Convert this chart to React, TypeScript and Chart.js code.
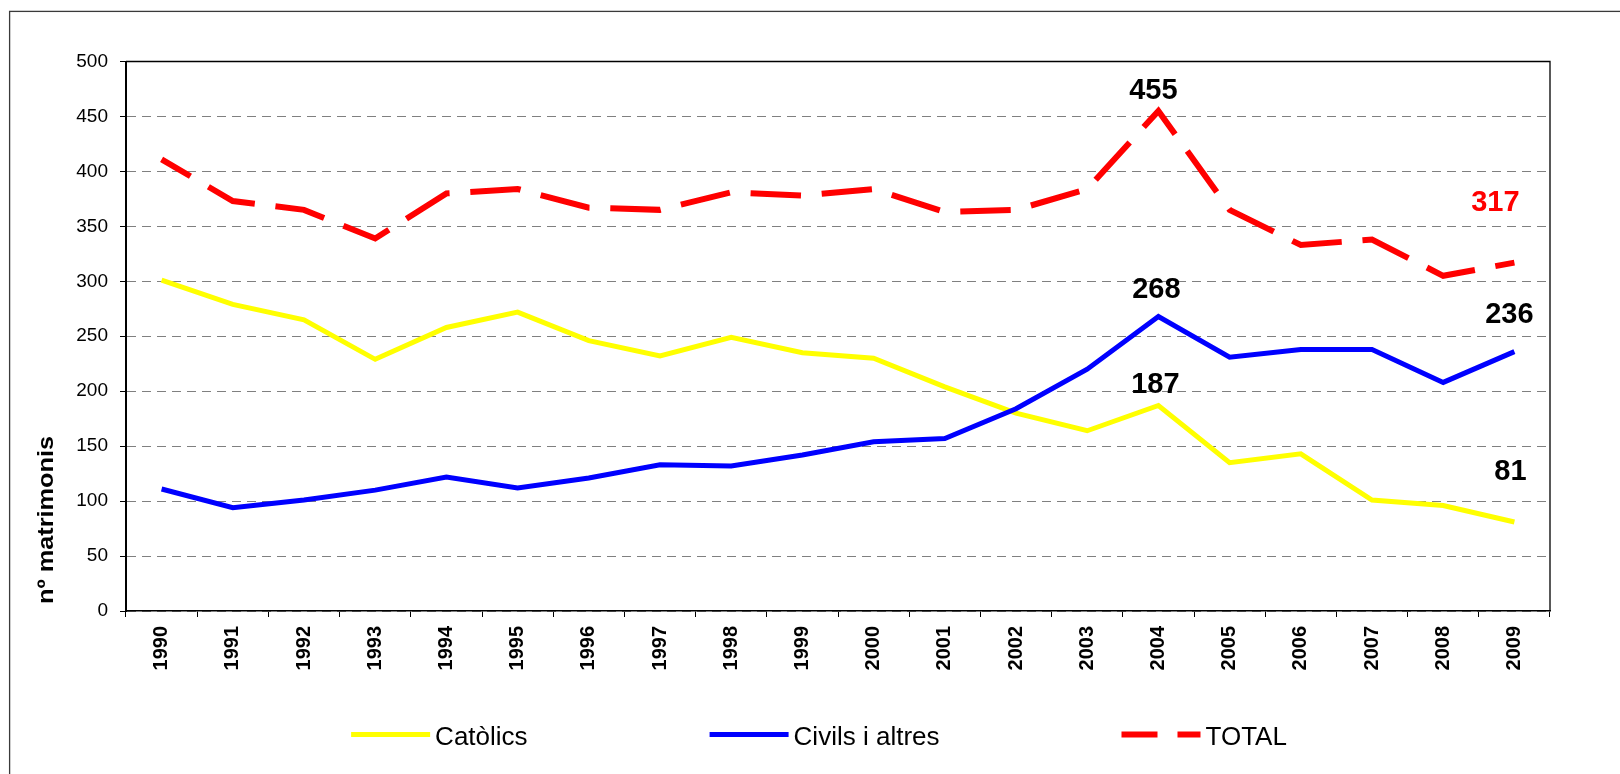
import React, { useEffect, useRef } from "react";
import { Chart, registerables } from "chart.js";

Chart.register(...registerables);

const years = ["1990", "1991", "1992", "1993", "1994", "1995", "1996", "1997", "1998", "1999", "2000", "2001", "2002", "2003", "2004", "2005", "2006", "2007", "2008", "2009"];
const catolics = [301, 279, 265, 229, 258, 272, 246, 232, 249, 235, 230, 204, 180, 164, 187, 135, 143, 101, 96, 81];
const civils = [111, 94, 101, 110, 122, 112, 121, 133, 132, 142, 154, 157, 184, 220, 268, 231, 238, 238, 208, 236];
const total = [411, 373, 365, 339, 380, 384, 367, 365, 381, 378, 384, 363, 365, 384, 455, 365, 333, 338, 305, 317];

const seriesNames = ["Catòlics", "Civils i altres", "TOTAL"];
const yTitle = "nº matrimonis";
const yMin = 0;
const yMax = 500;
const yStep = 50;

const FONT = '"Liberation Sans", Arial, Helvetica, sans-serif';

// Value labels: which dataset / point, plus offset of the label from the point (px)
const valueLabels = [
  { ds: 2, i: 14, dx: -5, dy: -20, color: "#000000" },
  { ds: 1, i: 14, dx: -2, dy: -26, color: "#000000" },
  { ds: 0, i: 14, dx: -3, dy: -20, color: "#000000" },
  { ds: 2, i: 19, dx: -19, dy: -60, color: "#FF0000" },
  { ds: 1, i: 19, dx: -5, dy: -37, color: "#000000" },
  { ds: 0, i: 19, dx: -4, dy: -50, color: "#000000" },
];

const legendDashes: number[][] = [[], [], [36, 20]];

// dash style of the TOTAL line: nominal dash/gap, start phase and end phase
const DASH_ON = 51;
const DASH_OFF = 21;
const DASH_START = 17;
const DASH_END = 19.4;

const outerFramePlugin = {
  id: "outerFrame",
  beforeDraw(chart: any) {
    const ctx = chart.ctx;
    ctx.save();
    ctx.strokeStyle = "#3a3a3a";
    ctx.lineWidth = 1.3;
    ctx.strokeRect(9.6, 11.4, chart.width + 200, chart.height + 200);
    ctx.restore();
  },
};

const plotFramePlugin = {
  id: "plotFrame",
  afterDatasetsDraw(chart: any) {
    const { ctx, chartArea } = chart;
    ctx.save();
    ctx.strokeStyle = "#000000";
    ctx.lineWidth = 1.3;
    ctx.beginPath();
    ctx.moveTo(chartArea.left, chartArea.top);
    ctx.lineTo(chartArea.right, chartArea.top);
    ctx.lineTo(chartArea.right, chartArea.bottom);
    ctx.stroke();
    ctx.restore();
  },
};

const valueLabelsPlugin = {
  id: "valueLabels",
  afterDatasetsDraw(chart: any) {
    const ctx = chart.ctx;
    ctx.save();
    ctx.font = `bold 29px ${FONT}`;
    ctx.textAlign = "center";
    ctx.textBaseline = "middle";
    valueLabels.forEach((lb) => {
      const meta = chart.getDatasetMeta(lb.ds);
      const pt = meta.data[lb.i];
      if (!pt) return;
      const v = chart.data.datasets[lb.ds].data[lb.i];
      ctx.fillStyle = lb.color;
      ctx.fillText(String(v), pt.x + lb.dx, pt.y + lb.dy);
    });
    ctx.restore();
  },
};

const yTitlePlugin = {
  id: "yTitle",
  afterDraw(chart: any) {
    const { ctx, chartArea } = chart;
    ctx.save();
    ctx.font = `bold 22px ${FONT}`;
    const w = ctx.measureText(yTitle).width;
    const sx = 168 / w;
    ctx.translate(chartArea.left - 73, chartArea.bottom - 91);
    ctx.rotate(-Math.PI / 2);
    ctx.scale(sx, 1);
    ctx.fillStyle = "#000000";
    ctx.textAlign = "center";
    ctx.textBaseline = "alphabetic";
    ctx.fillText(yTitle, 0, 0);
    ctx.restore();
  },
};

const legendPlugin = {
  id: "customLegend",
  afterDraw(chart: any) {
    const { ctx, chartArea } = chart;
    ctx.save();
    ctx.font = `26px ${FONT}`;
    const lineLen = 79;
    const gapText = 5;
    const gapItem = 182;
    const items = chart.data.datasets.map((ds: any, k: number) => ({
      text: ds.label,
      color: ds.borderColor,
      width: ds.borderWidth,
      dash: legendDashes[k] || [],
    }));
    const widths = items.map((it: any) => lineLen + gapText + ctx.measureText(it.text).width);
    const totalW = widths.reduce((a: number, b: number) => a + b, 0) + gapItem * (items.length - 1);
    let x = chart.width / 2 + 9 - totalW / 2;
    const yLine = chartArea.bottom + 123.5;
    const yText = yLine + 10.5;
    items.forEach((it: any, k: number) => {
      ctx.beginPath();
      ctx.strokeStyle = it.color;
      ctx.lineWidth = it.width;
      ctx.lineCap = "butt";
      ctx.setLineDash(it.dash);
      ctx.moveTo(x, yLine);
      ctx.lineTo(x + lineLen, yLine);
      ctx.stroke();
      ctx.setLineDash([]);
      ctx.fillStyle = "#000000";
      ctx.textAlign = "left";
      ctx.textBaseline = "alphabetic";
      ctx.fillText(it.text, x + lineLen + gapText, yText);
      x += widths[k] + gapItem;
    });
    ctx.restore();
  },
};

export default function App() {
  const ref = useRef<HTMLCanvasElement>(null);

  useEffect(() => {
    const canvas = ref.current;
    if (!canvas) return;
    const chart = new Chart(canvas, {
      type: "line",
      data: {
        labels: years,
        datasets: [
          {
            label: seriesNames[0],
            data: catolics,
            borderColor: "#FFFF00",
            backgroundColor: "#FFFF00",
            borderWidth: 5,
            pointRadius: 0,
            tension: 0,
            fill: false,
            order: 2,
          },
          {
            label: seriesNames[1],
            data: civils,
            borderColor: "#0000FF",
            backgroundColor: "#0000FF",
            borderWidth: 5,
            pointRadius: 0,
            tension: 0,
            fill: false,
            order: 1,
          },
          {
            label: seriesNames[2],
            data: total,
            borderColor: "#FF0000",
            backgroundColor: "#FF0000",
            borderWidth: 6,
            borderDash: [DASH_ON, DASH_OFF],
            borderDashOffset: DASH_START,
            pointRadius: 0,
            tension: 0,
            fill: false,
            order: 0,
          },
        ],
      },
      options: {
        responsive: false,
        animation: false,
        events: [],
        layout: { padding: { left: 26, right: 70, top: 61.5, bottom: 43 } },
        plugins: {
          legend: { display: false },
          tooltip: { enabled: false },
          title: { display: false },
        },
        scales: {
          x: {
            type: "category",
            offset: true,
            grid: {
              display: true,
              drawOnChartArea: false,
              drawTicks: true,
              tickLength: 6,
              tickColor: "#000000",
              tickWidth: 1,
              offset: true,
            },
            border: { display: true, color: "#000000", width: 1.5 },
            ticks: {
              minRotation: 90,
              maxRotation: 90,
              autoSkip: false,
              padding: 9,
              color: "#000000",
              font: { family: FONT, size: 20, weight: "bold" },
            },
            afterFit: (s: any) => {
              s.height = 120;
            },
          },
          y: {
            type: "linear",
            min: yMin,
            max: yMax,
            ticks: {
              stepSize: yStep,
              padding: 12,
              color: "#000000",
              font: { family: FONT, size: 19 },
            },
            grid: {
              color: "#808080",
              lineWidth: 1,
              tickColor: "#000000",
              tickLength: 6,
              drawTicks: true,
            },
            border: { display: true, color: "#000000", width: 2, dash: [9, 6] },
            afterFit: (s: any) => {
              s.width = 100;
            },
          },
        },
      } as any,
      plugins: [outerFramePlugin, plotFramePlugin, valueLabelsPlugin, yTitlePlugin, legendPlugin],
    });

    // fit the dash period so the dashed TOTAL line starts and ends like the original
    try {
      const pts = chart.getDatasetMeta(2).data as any[];
      let L = 0;
      for (let i = 1; i < pts.length; i++) {
        L += Math.hypot(pts[i].x - pts[i - 1].x, pts[i].y - pts[i - 1].y);
      }
      const base = DASH_ON + DASH_OFF;
      const span = L + DASH_START - DASH_END;
      const n = Math.max(1, Math.round(span / base));
      const P = span / n;
      const ds: any = chart.data.datasets[2];
      ds.borderDash = [(P * DASH_ON) / base, (P * DASH_OFF) / base];
      ds.borderDashOffset = DASH_START;
      chart.update();
    } catch (e) {
      // keep nominal dash
    }

    return () => chart.destroy();
  }, []);

  return (
    <div style={{ position: "fixed", left: 0, top: 0, width: 1620, height: 774, background: "#ffffff", overflow: "hidden" }}>
      <canvas ref={ref} width={1620} height={774} style={{ display: "block", width: 1620, height: 774 }} />
    </div>
  );
}
